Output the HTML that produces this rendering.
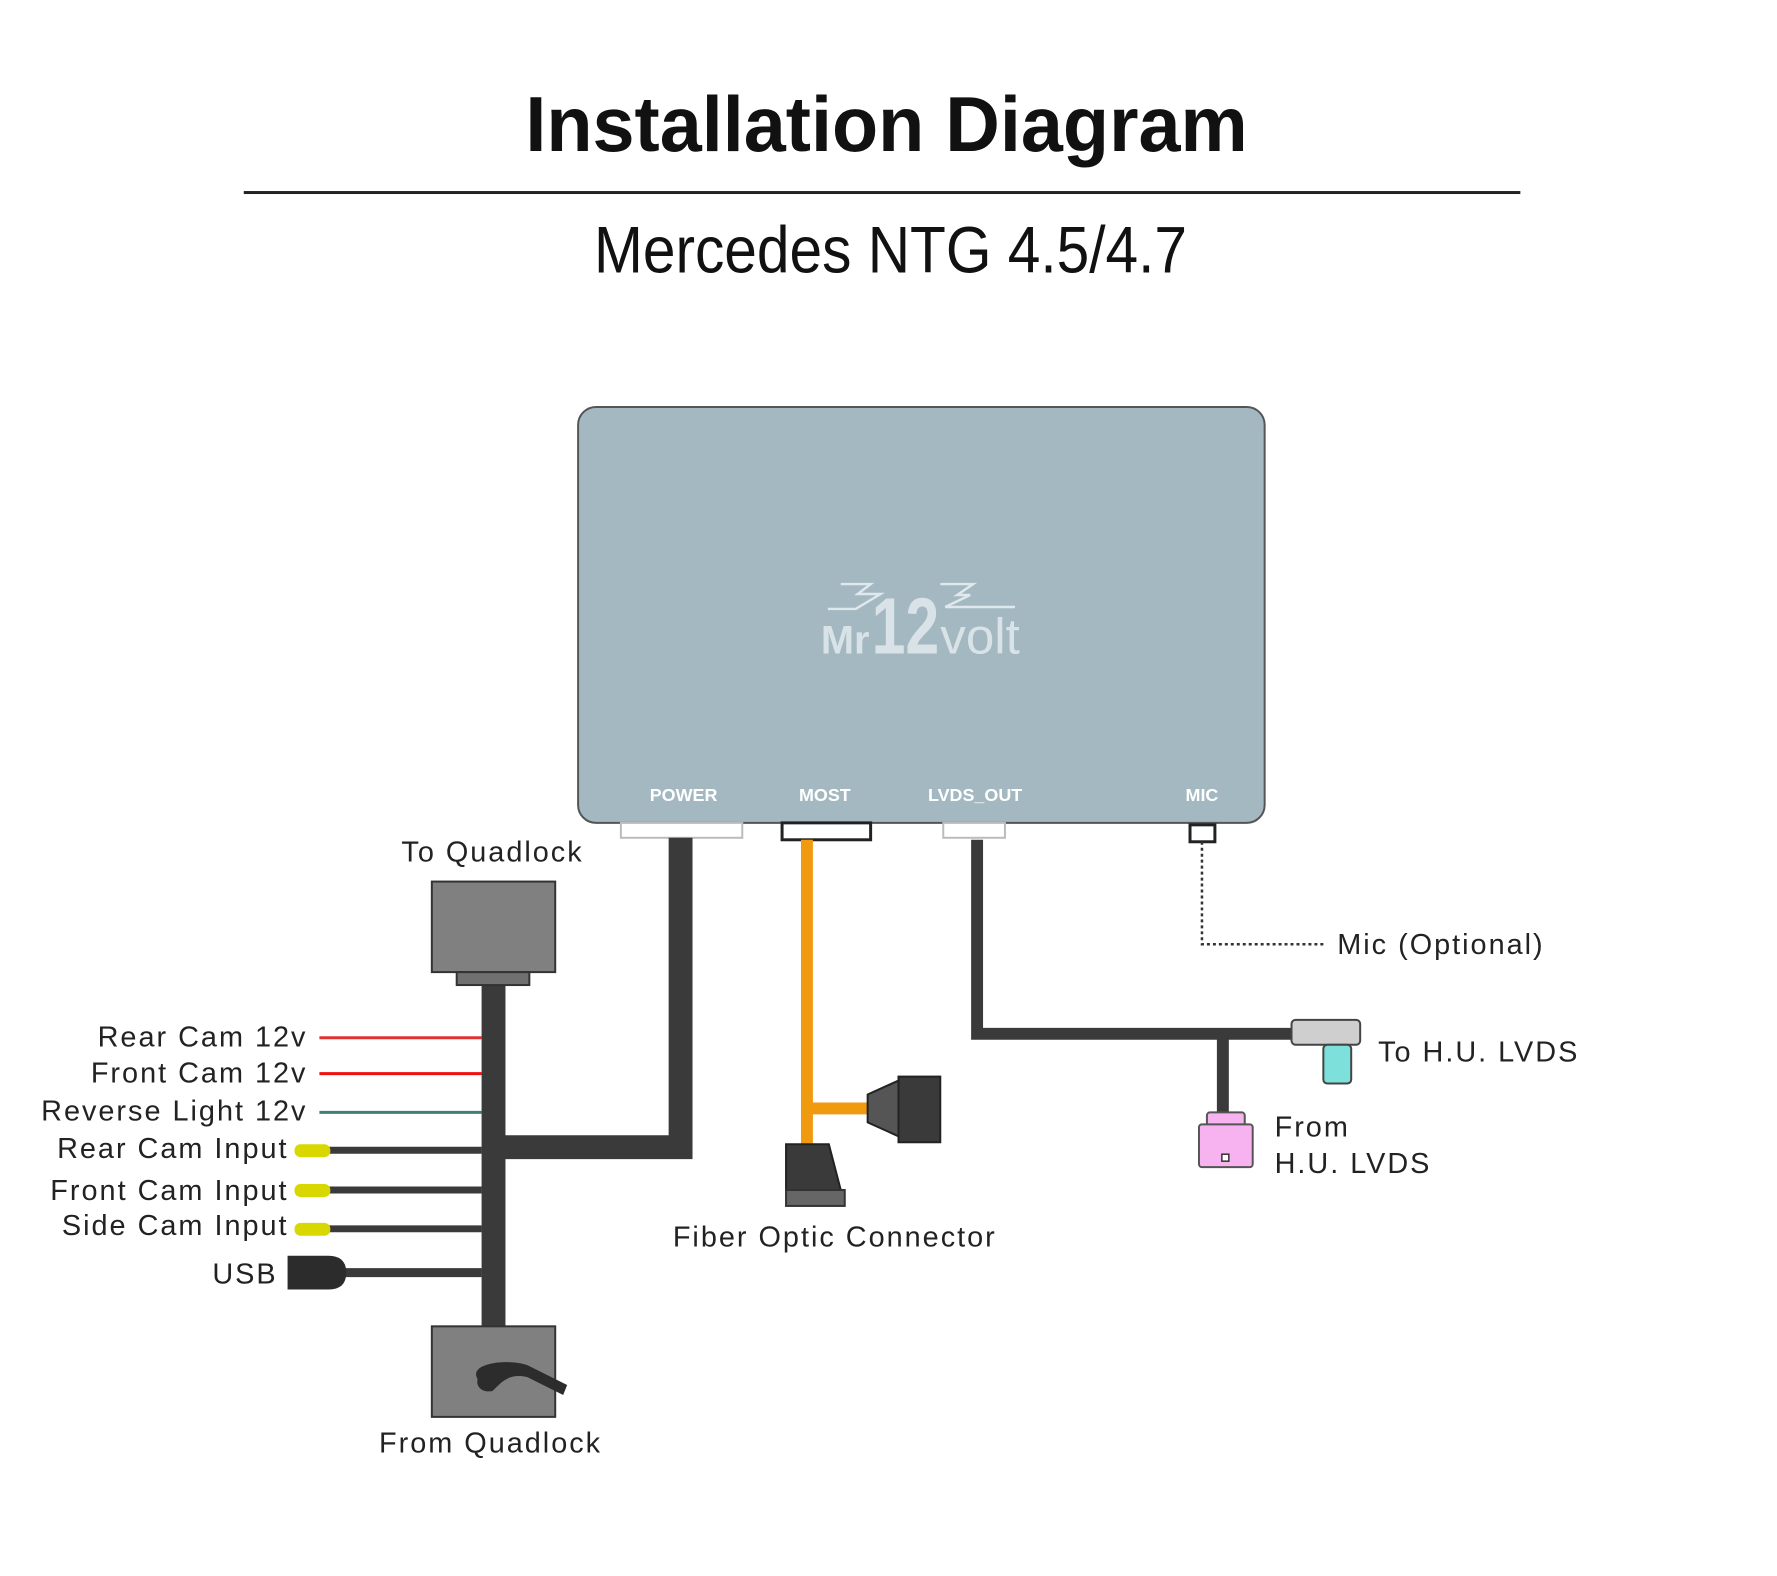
<!DOCTYPE html>
<html><head><meta charset="utf-8"><style>
html,body{margin:0;padding:0;background:#fff;}
svg{display:block;}
text{font-family:"Liberation Sans",sans-serif;}
</style></head><body>
<svg width="1777" height="1576" viewBox="0 0 1777 1576" xmlns="http://www.w3.org/2000/svg">
<rect width="1777" height="1576" fill="#fff"/>
<g transform="scale(0.995)">
<text x="891" y="152" text-anchor="middle" font-size="78" font-weight="bold" textLength="726" lengthAdjust="spacingAndGlyphs" fill="#111">Installation Diagram</text>
<rect x="245" y="192" width="1283" height="3" fill="#222"/>
<text x="895" y="274" text-anchor="middle" font-size="66" textLength="596" lengthAdjust="spacingAndGlyphs" fill="#111">Mercedes NTG 4.5/4.7</text>

<rect x="581" y="409" width="690" height="418" rx="18" fill="#a3b8c1" stroke="#555" stroke-width="2"/>
<g fill="#dfe8ec" opacity="0.9">
<text x="825" y="657" font-size="40" font-weight="bold">Mr</text>
<text x="876" y="657" font-size="80" font-weight="bold" textLength="68" lengthAdjust="spacingAndGlyphs">12</text>
<text x="945" y="657" font-size="50" textLength="80" lengthAdjust="spacingAndGlyphs">volt</text>
</g>
<g stroke="#dfe8ec" stroke-width="2.5" fill="none">
<polyline points="845,587 875,587 862,597 885,597 860,612 832,612"/>
<polyline points="945,587 978,587 962,598 975,598 950,610 1020,610"/>
</g>
<g fill="#fff" font-size="18" font-weight="bold" text-anchor="middle">
<text x="687" y="805">POWER</text>
<text x="829" y="805">MOST</text>
<text x="980" y="805">LVDS_OUT</text>
<text x="1208" y="805">MIC</text>
</g>
<rect x="624" y="827" width="122" height="15" fill="#fff" stroke="#bbb" stroke-width="2"/>
<rect x="786" y="827" width="89" height="17" fill="#fff" stroke="#222" stroke-width="3"/>
<rect x="948" y="827" width="62" height="15" fill="#fff" stroke="#bbb" stroke-width="2"/>
<rect x="1196" y="829" width="25" height="17" fill="#fff" stroke="#222" stroke-width="3"/>

<path d="M684,842 V1153 H496" stroke="#3a3a3a" stroke-width="24" fill="none"/>
<rect x="484" y="985" width="24" height="350" fill="#3a3a3a"/>
<rect x="434" y="886" width="124" height="91" fill="#808080" stroke="#333" stroke-width="2"/>
<rect x="459" y="977" width="73" height="13" fill="#707070" stroke="#333" stroke-width="2"/>
<text x="495" y="866" text-anchor="middle" font-size="29" letter-spacing="2" fill="#222">To Quadlock</text>
<rect x="434" y="1333" width="124" height="91" fill="#808080" stroke="#333" stroke-width="2"/>
<path d="M480,1386 C470,1370 510,1365 530,1372 L570,1392 L566,1402 L530,1384 C512,1380 505,1388 495,1398 C485,1400 478,1394 480,1386Z" fill="#2c2c2c"/>
<text x="493" y="1460" text-anchor="middle" font-size="29" letter-spacing="2" fill="#222">From Quadlock</text>

<line x1="321" y1="1043" x2="484" y2="1043" stroke="#d33" stroke-width="3"/>
<line x1="321" y1="1079" x2="484" y2="1079" stroke="#e11" stroke-width="3"/>
<line x1="321" y1="1118" x2="484" y2="1118" stroke="#3f7f7a" stroke-width="3"/>
<g stroke="#3a3a3a" stroke-width="7">
<line x1="320" y1="1156" x2="484" y2="1156"/>
<line x1="320" y1="1196" x2="484" y2="1196"/>
<line x1="320" y1="1235" x2="484" y2="1235"/>
<line x1="330" y1="1279" x2="484" y2="1279" stroke-width="9"/>
</g>
<g fill="#d8d800">
<rect x="296" y="1150" width="36" height="13" rx="6"/>
<rect x="296" y="1190" width="36" height="13" rx="6"/>
<rect x="296" y="1229" width="36" height="13" rx="6"/>
</g>
<path d="M289,1262 H330 Q348,1262 348,1279 Q348,1296 330,1296 H289Z" fill="#2c2c2c"/>
<g font-size="29" fill="#222" text-anchor="end" letter-spacing="2">
<text x="309" y="1052">Rear Cam 12v</text>
<text x="309" y="1088">Front Cam 12v</text>
<text x="309" y="1126">Reverse Light 12v</text>
<text x="290" y="1164">Rear Cam Input</text>
<text x="290" y="1206">Front Cam Input</text>
<text x="290" y="1241">Side Cam Input</text>
<text x="279" y="1290">USB</text>
</g>

<path d="M811,844 V1152 M811,1114 H880" stroke="#f09a0f" stroke-width="12" fill="none"/>
<path d="M872,1100 L903,1086 V1142 L872,1128Z" fill="#555" stroke="#222" stroke-width="2"/>
<rect x="903" y="1082" width="42" height="66" fill="#3a3a3a" stroke="#222" stroke-width="2"/>
<path d="M790,1150 H833 L845,1196 H790Z" fill="#3a3a3a" stroke="#222" stroke-width="2"/>
<rect x="790" y="1196" width="59" height="16" fill="#666" stroke="#333" stroke-width="2"/>
<text x="839" y="1253" text-anchor="middle" font-size="29" letter-spacing="2" fill="#222">Fiber Optic Connector</text>

<path d="M982,844 V1039 H1300 M1229,1039 V1122" stroke="#3a3a3a" stroke-width="12" fill="none"/>
<rect x="1298" y="1025" width="69" height="25" rx="4" fill="#cfcfcf" stroke="#444" stroke-width="2"/>
<rect x="1330" y="1050" width="28" height="39" rx="4" fill="#7de0da" stroke="#444" stroke-width="2"/>
<rect x="1213" y="1118" width="38" height="14" rx="3" fill="#f7b3ef" stroke="#555" stroke-width="2"/>
<rect x="1205" y="1130" width="54" height="43" rx="3" fill="#f7b3ef" stroke="#555" stroke-width="2"/>
<rect x="1228" y="1160" width="7" height="7" fill="#fff" stroke="#333" stroke-width="1.5"/>
<g font-size="29" fill="#222" letter-spacing="2">
<text x="1385" y="1067">To H.U. LVDS</text>
<text x="1281" y="1142">From</text>
<text x="1281" y="1179">H.U. LVDS</text>
<text x="1344" y="959">Mic (Optional)</text>
</g>
<path d="M1208,846 V949 H1333" stroke="#333" stroke-width="2.5" stroke-dasharray="3,3" fill="none"/>
</g>
</svg>
</body></html>
